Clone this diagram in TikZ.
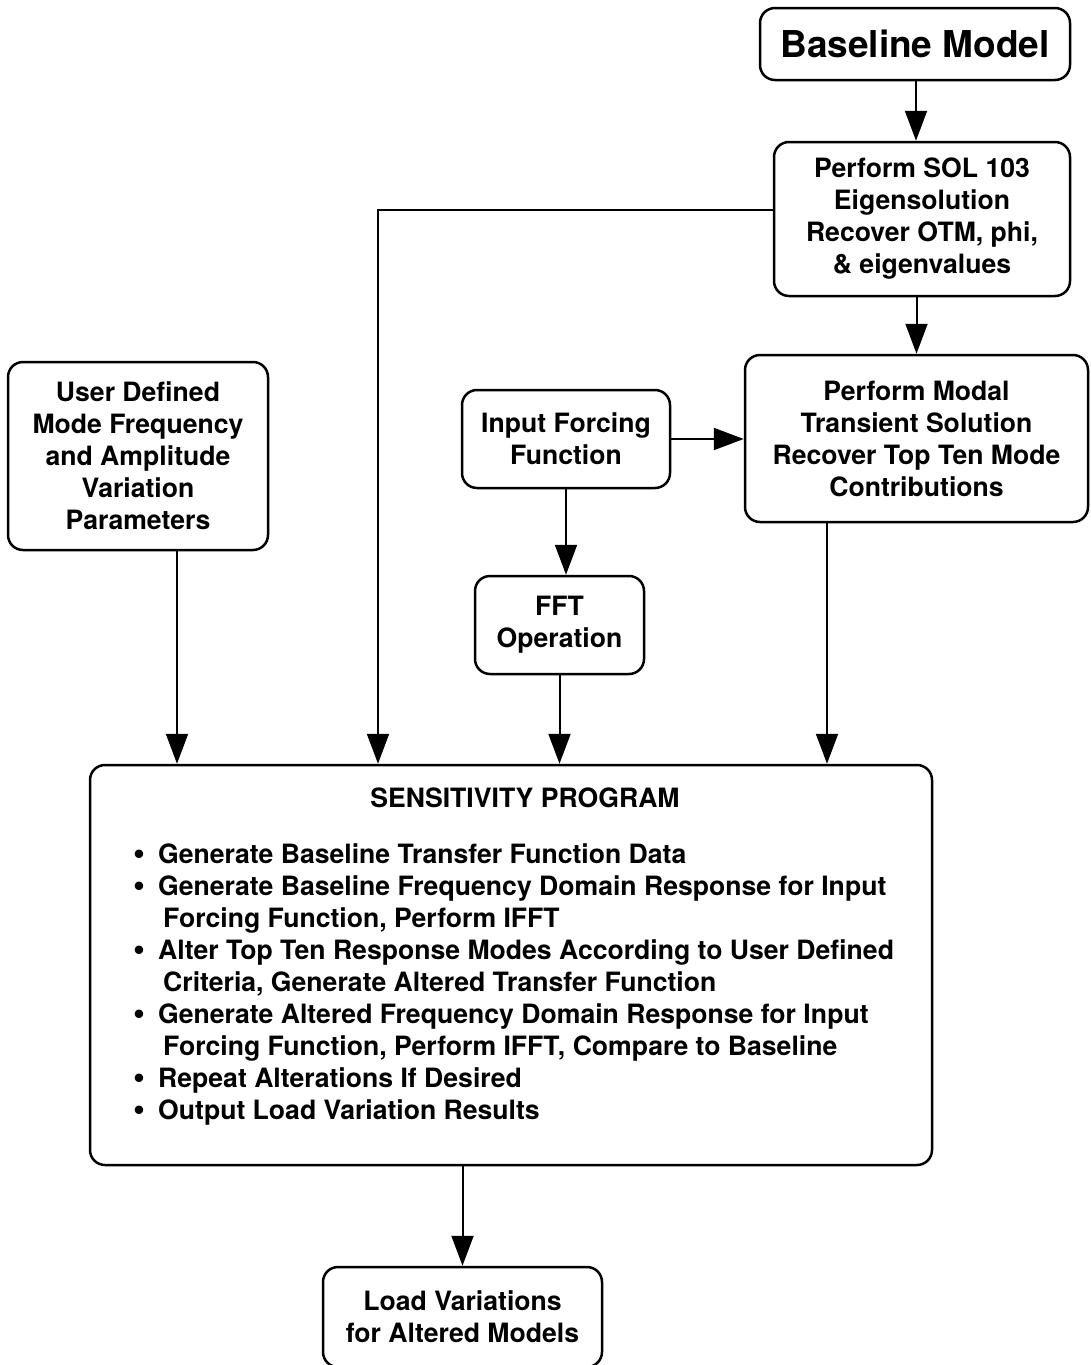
\documentclass[tikz,border=0pt]{standalone}
\usepackage{fontspec}
\setmainfont{TeX Gyre Heros}
\usetikzlibrary{arrows.meta}
\def \fs{\fontsize{26.6}{32}\selectfont\bfseries}
\def \bul{\makebox[25pt][l]{\smash{\raisebox{-1.5pt}{\fontsize{34}{32}\selectfont\textbullet}}}}
\def \cont{\hspace*{30pt}}

\begin{document}
\begin{tikzpicture}[x=1pt, y=-1pt,
    box/.style={draw=black, line width=2.5pt, rounded corners=15pt, align=center,
      inner sep=0pt, font=\fs},
    arr/.style={line width=2pt, -{Triangle[length=30pt, width=22pt]}}]
    \useasboundingbox (0,0) rectangle (1090,1365);
    \node[box, minimum width=310pt, minimum height=72pt, font=\fontsize{37}{40}\selectfont\bfseries]
      (base) at (915, 44) {Baseline Model};
    \node[box, minimum width=296pt, minimum height=154pt] (sol) at (922, 219)
      {Perform SOL 103\\Eigensolution\\Recover OTM, phi,\\\& eigenvalues};
    \node[box, minimum width=260pt, minimum height=188pt] (user) at (138, 456)
      {User Defined\\Mode Frequency\\and Amplitude\\Variation\\Parameters};
    \node[box, minimum width=208pt, minimum height=98pt] (forcing) at (566, 439)
      {Input Forcing\\Function};
    \node[box, minimum width=343pt, minimum height=167pt] (modal) at (916.5, 438.5)
      {Perform Modal\\Transient Solution\\Recover Top Ten Mode\\Contributions};
    \node[box, minimum width=169pt, minimum height=98pt] (fft) at (559.5, 625)
      {FFT\\Operation};
    \node[box, minimum width=842pt, minimum height=400pt] (sens) at (511, 965) {};
    \node[font=\fs, inner sep=0pt] (title) at (525, 798) {SENSITIVITY PROGRAM};
    \node[font=\fs, inner sep=0pt, align=left, anchor=north west] (items) at (133, 843)
      {\bul Generate Baseline Transfer Function Data\\
       \bul Generate Baseline Frequency Domain Response for Input\\
       \cont Forcing Function, Perform IFFT\\
       \bul Alter Top Ten Response Modes According to User Defined\\
       \cont Criteria, Generate Altered Transfer Function\\
       \bul Generate Altered Frequency Domain Response for Input\\
       \cont Forcing Function, Perform IFFT, Compare to Baseline\\
       \bul Repeat Alterations If Desired\\
       \bul Output Load Variation Results};
    \node[box, minimum width=279pt, minimum height=100pt] (load) at (462.5, 1317)
      {Load Variations\\for Altered Models};
    \draw[arr] (base.south -| 916,0) -- (sol.north -| 916,0);
    \draw[arr] (sol.south -| modal.north) -- (modal.north);
    \draw[arr] ([yshift=9pt]sol.west) -| (sens.north -| 378,0);
    \draw[arr] (user.south -| 177,0) -- (sens.north -| 177,0);
    \draw[arr] (forcing.east) -- (forcing.east -| modal.west);
    \draw[arr] (forcing.south) -- (forcing.south |- fft.north);
    \draw[arr] (fft.south) -- (fft.south |- sens.north);
    \draw[arr] (modal.south -| 827,0) -- (sens.north -| 827,0);
    \draw[arr] (load.north |- sens.south) -- (load.north);
  \end{tikzpicture}
\end{document}
